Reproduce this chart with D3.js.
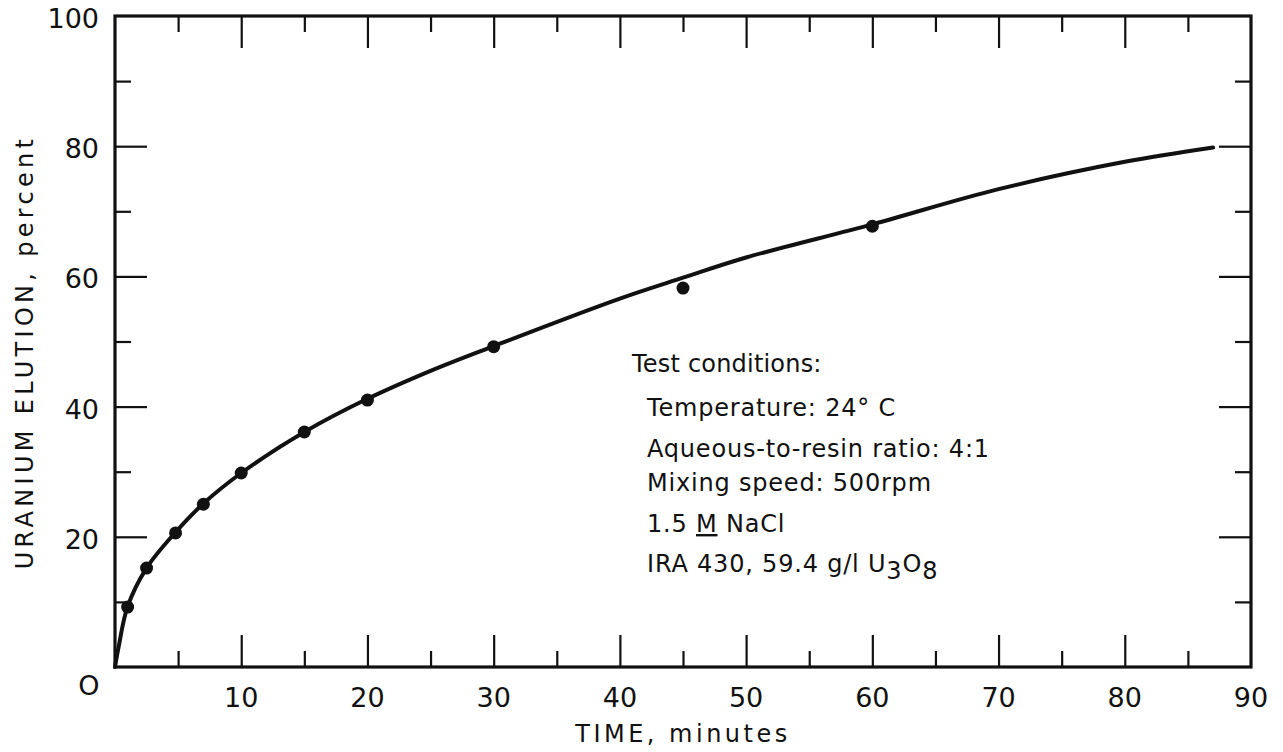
<!DOCTYPE html>
<html>
<head>
<meta charset="utf-8">
<script src="https://cdn.jsdelivr.net/npm/d3@7"></script>
<style>
  html, body { margin: 0; padding: 0; background: #fff; }
  svg { display: block; }
  text { font-family: "DejaVu Sans", "Liberation Sans", sans-serif; fill: #111; }
</style>
</head>
<body>
<svg id="chart" width="1283" height="752"></svg>
<script>
// ---- data ----
const pointTimes  = [1, 2.5, 4.8, 7, 10, 15, 20, 30, 45, 60];
const pointValues = [9.2, 15.2, 20.6, 25.0, 29.8, 36.1, 41.0, 49.2, 58.2, 67.7];

const curveTimes  = [0, 0.3, 1, 2.5, 4.8, 7, 10, 15, 20, 25, 30, 40, 45, 50, 60, 70, 80, 87];
const curveValues = [0, 3.2, 9.3, 15.2, 20.7, 25.1, 29.8, 36.1, 41.2, 45.5, 49.3, 56.6, 59.8, 62.9, 68.0, 73.4, 77.6, 79.8];

const xMajorTicks = [10, 20, 30, 40, 50, 60, 70, 80];
const xMinorTicks = [5, 15, 25, 35, 45, 55, 65, 75, 85];
const yMajorTicks = [20, 40, 60, 80];
const yMinorTicks = [10, 30, 50, 70, 90];
const xTickLabels = ["10", "20", "30", "40", "50", "60", "70", "80", "90"];
const xTickLabelValues = [10, 20, 30, 40, 50, 60, 70, 80, 90];
const yTickLabels = ["20", "40", "60", "80", "100"];
const yTickLabelValues = [20, 40, 60, 80, 100];
const originLabel = "O";

const xTitle = "TIME, minutes";
const yTitle = "URANIUM ELUTION, percent";
const noteHeader = "Test conditions:";
const noteLines = ["Temperature: 24° C", "Aqueous-to-resin ratio: 4:1", "Mixing speed: 500rpm"];

// ---- layout ----
const svg = d3.select("#chart");
const L = 115, R = 1251, T = 16, B = 667;
const x = d3.scaleLinear().domain([0, 90]).range([L, R]);
const y = d3.scaleLinear().domain([0, 100]).range([B, T]);

const ink = "#111";
const MAJ = 32, MIN = 16;

function styleAxis(g) {
  g.select(".domain").remove();
  g.selectAll(".tick line").attr("stroke", ink).attr("stroke-width", 2.2);
  g.selectAll(".tick text").remove();
}
function ticks(axisFn, scale, vals, size, tr) {
  svg.append("g").attr("transform", tr)
    .call(axisFn(scale).tickValues(vals).tickSize(-size).tickFormat("")).call(styleAxis);
}
ticks(d3.axisBottom, x, xMajorTicks, MAJ, `translate(0,${B})`);
ticks(d3.axisBottom, x, xMinorTicks, MIN, `translate(0,${B})`);
ticks(d3.axisTop, x, xMajorTicks, MAJ, `translate(0,${T})`);
ticks(d3.axisTop, x, xMinorTicks, MIN, `translate(0,${T})`);
ticks(d3.axisLeft, y, yMajorTicks, MAJ, `translate(${L},0)`);
ticks(d3.axisLeft, y, yMinorTicks, MIN, `translate(${L},0)`);
ticks(d3.axisRight, y, yMajorTicks, MAJ, `translate(${R},0)`);
ticks(d3.axisRight, y, yMinorTicks, MIN, `translate(${R},0)`);

// frame
svg.append("rect").attr("x", L).attr("y", T).attr("width", R - L).attr("height", B - T)
  .attr("fill", "none").attr("stroke", ink).attr("stroke-width", 3.2);

// tick labels
const tickFont = 27;
svg.append("g").selectAll("text").data(xTickLabelValues).join("text")
  .attr("x", d => x(d)).attr("y", B + 40)
  .attr("text-anchor", "middle").attr("font-size", tickFont)
  .text((d, i) => xTickLabels[i]);
svg.append("g").selectAll("text").data(yTickLabelValues).join("text")
  .attr("x", L - 16).attr("y", d => y(d) + 12)
  .attr("text-anchor", "end").attr("font-size", tickFont)
  .text((d, i) => yTickLabels[i]);
svg.append("text").attr("x", x(0) - 26).attr("y", y(0) + 28)
  .attr("text-anchor", "middle").attr("font-size", tickFont).text(originLabel);

// axis titles
svg.append("text").attr("x", 683).attr("y", 742)
  .attr("text-anchor", "middle").attr("font-size", 24).attr("letter-spacing", 3.5).text(xTitle);
svg.append("text").attr("transform", `translate(33,352) rotate(-90)`)
  .attr("text-anchor", "middle").attr("font-size", 24).attr("letter-spacing", 4.3).text(yTitle);

// curve
const curveData = curveTimes.map((t, i) => [t, curveValues[i]]);
svg.append("path").datum(curveData)
  .attr("d", d3.line().x(d => x(d[0])).y(d => y(d[1])).curve(d3.curveCatmullRom.alpha(0.5)))
  .attr("fill", "none").attr("stroke", ink).attr("stroke-width", 4).attr("stroke-linecap", "round");

// points
svg.append("g").selectAll("circle").data(pointTimes).join("circle")
  .attr("cx", d => x(d)).attr("cy", (d, i) => y(pointValues[i])).attr("r", 6.5).attr("fill", ink);

// annotation
const noteFont = 24, noteSpacing = 0.8;
svg.append("text").attr("x", 632).attr("y", 372).attr("font-size", noteFont)
  .attr("letter-spacing", 0.2).text(noteHeader);
const lineYs = [416, 457, 491];
noteLines.forEach((s, i) => {
  svg.append("text").attr("x", 647).attr("y", lineYs[i]).attr("font-size", noteFont)
    .attr("letter-spacing", noteSpacing).text(s);
});
// 1.5 M NaCl with underlined M
const t4 = svg.append("text").attr("x", 647).attr("y", 532).attr("font-size", noteFont)
  .attr("letter-spacing", noteSpacing);
t4.append("tspan").text("1.5 ");
t4.append("tspan").attr("text-decoration", "underline").text("M");
t4.append("tspan").text(" NaCl");
// IRA 430, 59.4 g/l U3O8
const t5 = svg.append("text").attr("x", 647).attr("y", 572).attr("font-size", noteFont)
  .attr("letter-spacing", noteSpacing);
t5.append("tspan").text("IRA 430, 59.4 g/l U");
t5.append("tspan").attr("dy", 7).text("3");
t5.append("tspan").attr("dy", -7).text("O");
t5.append("tspan").attr("dy", 7).text("8");
</script>
</body>
</html>
